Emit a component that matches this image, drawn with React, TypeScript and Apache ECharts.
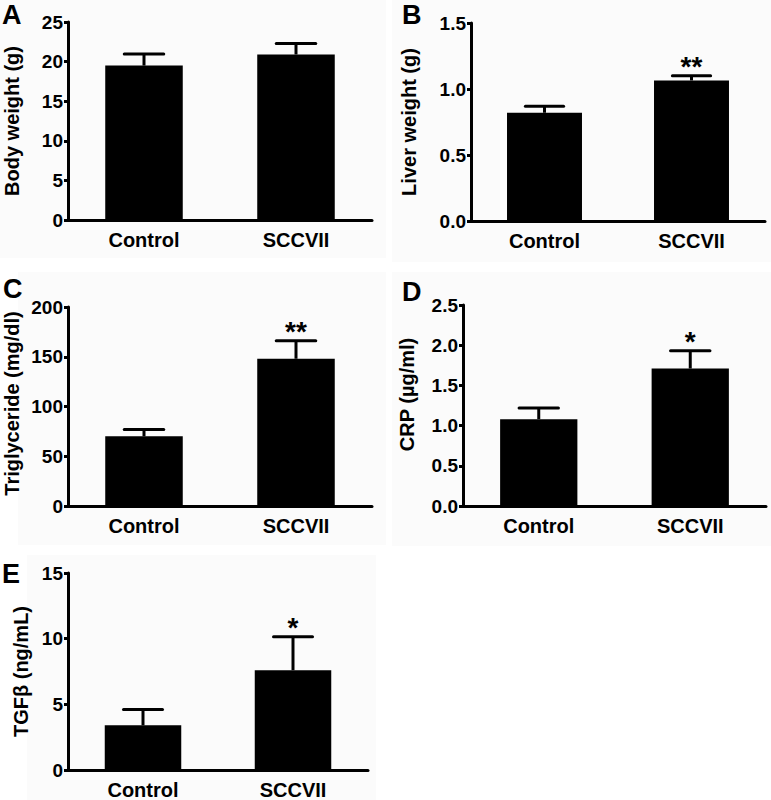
import React, { useEffect, useRef } from "react";
import * as echarts from "echarts";

const categories = ["Control", "SCCVII"];

const bodyWeight = [19.5, 20.9];
const bodyWeightErr = [1.45, 1.4];
const bodyWeightSig = ["", ""];

const liverWeight = [0.82, 1.065];
const liverWeightErr = [0.05, 0.035];
const liverWeightSig = ["", "**"];

const triglyceride = [70, 148];
const triglycerideErr = [7, 18];
const triglycerideSig = ["", "**"];

const crp = [1.08, 1.71];
const crpErr = [0.14, 0.22];
const crpSig = ["", "*"];

const tgfb = [3.4, 7.6];
const tgfbErr = [1.2, 2.55];
const tgfbSig = ["", "*"];

const FONT = "'Liberation Sans', Arial, Helvetica, sans-serif";

type Panel = {
  letter: string;
  name: string;
  values: number[];
  errs: number[];
  sig: string[];
  max: number;
  interval: number;
  decimals: number;
  grid: { left: number; top: number; width: number; height: number };
  nameGap: number;
  namePad: number[];
  letterPos: [number, number];
  bg: [number, number, number, number];
};

const panels: Panel[] = [
  {
    letter: "A", name: "Body weight (g)", values: bodyWeight, errs: bodyWeightErr, sig: bodyWeightSig,
    max: 25, interval: 5, decimals: 0,
    grid: { left: 68, top: 22, width: 304, height: 198 }, nameGap: 46, namePad: [0, 0, 0, 0], letterPos: [2, 1],
    bg: [0, 0, 386, 258],
  },
  {
    letter: "B", name: "Liver weight (g)", values: liverWeight, errs: liverWeightErr, sig: liverWeightSig,
    max: 1.5, interval: 0.5, decimals: 1,
    grid: { left: 471, top: 23, width: 294, height: 198 }, nameGap: 52, namePad: [0, 0, 0, 0], letterPos: [402, 1],
    bg: [392, 0, 379, 262],
  },
  {
    letter: "C", name: "Triglyceride (mg/dl)", values: triglyceride, errs: triglycerideErr, sig: triglycerideSig,
    max: 200, interval: 50, decimals: 0,
    grid: { left: 68, top: 307, width: 304, height: 199 }, nameGap: 46, namePad: [0, 0, 0, 6], letterPos: [3, 275],
    bg: [18, 272, 368, 273],
  },
  {
    letter: "D", name: "CRP (µg/ml)", values: crp, errs: crpErr, sig: crpSig,
    max: 2.5, interval: 0.5, decimals: 1,
    grid: { left: 463, top: 305, width: 303, height: 201 }, nameGap: 46, namePad: [0, 0, 0, 22], letterPos: [402, 278],
    bg: [392, 272, 379, 274],
  },
  {
    letter: "E", name: "TGFβ (ng/mL)", values: tgfb, errs: tgfbErr, sig: tgfbSig,
    max: 15, interval: 5, decimals: 0,
    grid: { left: 68, top: 573, width: 300, height: 199 }, nameGap: 37, namePad: [0, 0, 0, 0], letterPos: [2, 560],
    bg: [27, 555, 349, 245],
  },
];

function buildOption() {
  const grid: any[] = [];
  const xAxis: any[] = [];
  const yAxis: any[] = [];
  const series: any[] = [];
  const graphic: any[] = [];

  panels.forEach((p) => {
    graphic.push({
      type: "rect",
      silent: true,
      z: -10,
      shape: { x: p.bg[0], y: p.bg[1], width: p.bg[2], height: p.bg[3] },
      style: { fill: "#fbfbfb" },
    });
  });

  panels.forEach((p, i) => {
    grid.push({ ...p.grid });
    xAxis.push({
      type: "category",
      gridIndex: i,
      data: categories,
      axisLine: { lineStyle: { color: "#000", width: 3 } },
      axisTick: { show: false },
      axisLabel: {
        color: "#000",
        fontFamily: FONT,
        fontWeight: "bold",
        fontSize: 20,
        margin: 10,
      },
    });
    yAxis.push({
      type: "value",
      gridIndex: i,
      min: 0,
      max: p.max,
      interval: p.interval,
      name: p.name,
      nameLocation: "middle",
      nameGap: p.nameGap,
      nameTextStyle: {
        color: "#000",
        fontFamily: FONT,
        fontWeight: "bold",
        fontSize: 20,
        padding: p.namePad,
      },
      splitLine: { show: false },
      axisLine: { show: true, lineStyle: { color: "#000", width: 3 } },
      axisTick: { show: true, length: 4, lineStyle: { color: "#000", width: 3 } },
      axisLabel: {
        color: "#000",
        fontFamily: FONT,
        fontWeight: "bold",
        fontSize: 19,
        margin: 5,
        formatter: (v: number) => v.toFixed(p.decimals),
      },
    });
    series.push({
      type: "bar",
      xAxisIndex: i,
      yAxisIndex: i,
      data: p.values,
      barWidth: "51%",
      itemStyle: { color: "#000" },
      z: 3,
    });
    series.push({
      type: "custom",
      xAxisIndex: i,
      yAxisIndex: i,
      z: 2,
      data: p.values.map((v, k) => [k, v, p.errs[k], p.sig[k]]),
      renderItem: (params: any, api: any) => {
        const k = api.value(0);
        const mean = api.value(1);
        const err = api.value(2);
        const sig = p.sig[k];
        const base = api.coord([k, mean]);
        const top = api.coord([k, mean + err]);
        const band = api.size([1, 0])[0];
        const half = band * 0.13;
        const children: any[] = [
          {
            type: "line",
            shape: { x1: top[0], y1: base[1], x2: top[0], y2: top[1] },
            style: { stroke: "#000", lineWidth: 3 },
          },
          {
            type: "line",
            shape: { x1: top[0] - half, y1: top[1], x2: top[0] + half, y2: top[1] },
            style: { stroke: "#000", lineWidth: 3, lineCap: "round" },
          },
        ];
        if (sig) {
          children.push({
            type: "text",
            style: {
              text: sig,
              x: top[0],
              y: top[1] - 9,
              align: "center",
              verticalAlign: "middle",
              fill: "#000",
              font: `bold 28px ${FONT}`,
            },
          });
        }
        return { type: "group", children };
      },
    });
    graphic.push({
      type: "text",
      left: p.letterPos[0],
      top: p.letterPos[1],
      style: {
        text: p.letter,
        fill: "#000",
        font: `bold 27px ${FONT}`,
      },
    });
  });

  return {
    animation: false,
    backgroundColor: "#ffffff",
    grid,
    xAxis,
    yAxis,
    series,
    graphic,
  };
}

export default function App() {
  const ref = useRef<HTMLDivElement>(null);
  useEffect(() => {
    document.body.style.margin = "0";
    if (!ref.current) return;
    const chart = echarts.init(ref.current, null, { renderer: "svg" });
    chart.setOption(buildOption() as any);
    return () => chart.dispose();
  }, []);
  return <div ref={ref} style={{ width: 771, height: 800 }} />;
}
